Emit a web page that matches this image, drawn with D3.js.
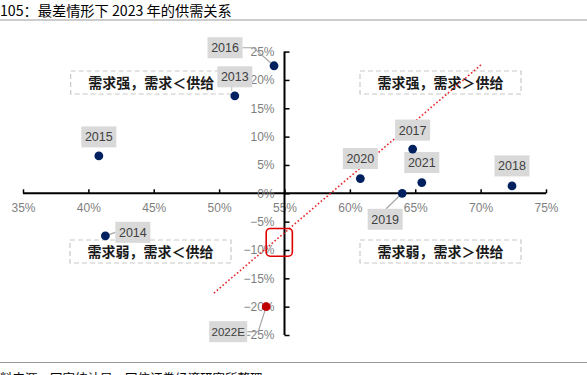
<!DOCTYPE html>
<html><head><meta charset="utf-8">
<script src="https://cdn.jsdelivr.net/npm/d3@7"></script>
<style>
html,body{margin:0;padding:0;background:#fff;}
svg{display:block;}
</style></head>
<body>
<svg id="c" width="587" height="375"></svg>
<script>
// ---- data ----
const years = ["2013","2014","2015","2016","2017","2018","2019","2020","2021","2022E"];
const demandX = [51.2, 41.3, 40.8, 54.2, 64.8, 72.4, 64.0, 60.8, 65.5, 53.6];
const supplyY = [17.2, -7.5, 6.6, 22.5, 7.8, 1.3, 0.0, 2.6, 1.9, -20.0];
const xTicks = [35,40,45,50,55,60,65,70,75];
const yTicks = [25,20,15,10,5,0,-5,-10,-15,-20,-25];
const trendX = [49.6, 70.1];
const trendY = [-17.6, 22.8];
const highlightX = [53.6, 55.6];
const highlightY = [-6.2, -11.1];
const quadrantTexts = ["需求强，需求＜供给","需求强，需求＞供给","需求弱，需求＜供给","需求弱，需求＞供给"];
const titleText = "105：最差情形下 2023 年的供需关系";
const sourceText = "资料来源：国家统计局，国信证券经济研究所整理";

// ---- layout (styling only) ----
const labelOffsets = {
  "2013":[0,-19], "2014":[27.5,-3.5], "2015":[0,-19], "2016":[-49,-18],
  "2017":[0,-19], "2018":[0,-20], "2019":[-17,26], "2020":[0,-20],
  "2021":[0,-20], "2022E":[-38,25]
};
const quadBoxes = [[70.7,71],[360,71],[70,240],[360,240]]; // top-left px
const quadW = 161, quadH = 23;

const svg = d3.select("#c");
const x = d3.scaleLinear().domain([35,75]).range([23,546]);
const y = d3.scaleLinear().domain([-25,25]).range([335,51.6]);
const fontLat = "'Liberation Sans', Arial, 'Noto Sans CJK SC', sans-serif";
const fontCJK = "'Noto Sans CJK SC', 'Liberation Sans', sans-serif";

// title
svg.append("text").attr("x",0).attr("y",15.5).attr("font-family",fontCJK)
  .attr("font-size",14.2).attr("fill","#000").text(titleText);
svg.append("line").attr("x1",0).attr("x2",587).attr("y1",20).attr("y2",20)
  .attr("stroke","#9a9a9a").attr("stroke-width",1);

// footer
svg.append("line").attr("x1",0).attr("x2",587).attr("y1",362.5).attr("y2",362.5)
  .attr("stroke","#9a9a9a").attr("stroke-width",1);
svg.append("text").attr("x",-12.5).attr("y",382.5).attr("font-family",fontCJK)
  .attr("font-size",12.5).attr("fill","#000").text(sourceText);

// quadrant dashed boxes
quadBoxes.forEach((b,i)=>{
  svg.append("rect").attr("x",b[0]).attr("y",b[1]).attr("width",quadW).attr("height",quadH)
    .attr("fill","#fff").attr("stroke","#c8c8c8").attr("stroke-width",1.2)
    .attr("stroke-dasharray","5,3");
  svg.append("text").attr("x",b[0]+quadW/2).attr("y",b[1]+quadH/2).attr("dy","0.36em")
    .attr("text-anchor","middle").attr("font-family",fontCJK).attr("font-weight","bold")
    .attr("font-size",14).attr("fill","#1a1a1a").text(quadrantTexts[i]);
});

// axes
const xAxis = d3.axisTop(x).tickValues(xTicks).tickSize(4).tickFormat(d=>d+"%");
const gx = svg.append("g").attr("transform",`translate(0,${y(0)})`).call(xAxis);
gx.select(".domain").attr("stroke","#000").attr("stroke-width",2).attr("d",`M${x(35)},0H${x(75)}`);
gx.selectAll(".tick line").attr("stroke","#000").attr("stroke-width",1.5);
gx.selectAll(".tick text").attr("y",15).attr("dy","0.35em").attr("font-family",fontLat)
  .attr("font-size",12).attr("fill","#7f7f7f");

const yAxis = d3.axisRight(y).tickValues(yTicks).tickSize(5)
  .tickFormat(d=> (d<0? "\u2212"+Math.abs(d) : d)+"%");
const gy = svg.append("g").attr("transform",`translate(${x(55)},0)`).call(yAxis);
gy.select(".domain").attr("stroke","#000").attr("stroke-width",2).attr("d",`M0,${y(25)}V${y(-25)}`);
gy.selectAll(".tick line").attr("stroke","#000").attr("stroke-width",1.5);
gy.selectAll(".tick text").attr("x",-10).attr("text-anchor","end").attr("font-family",fontLat)
  .attr("font-size",12).attr("fill","#7f7f7f");

// trend line
svg.append("line").attr("x1",x(trendX[0])).attr("y1",y(trendY[0]))
  .attr("x2",x(trendX[1])).attr("y2",y(trendY[1]))
  .attr("stroke","#e8262a").attr("stroke-width",1.6).attr("stroke-dasharray","1.6,2.2");

// highlight rect
svg.append("rect").attr("x",x(highlightX[0])).attr("y",y(highlightY[0]))
  .attr("width",x(highlightX[1])-x(highlightX[0])).attr("height",y(highlightY[1])-y(highlightY[0]))
  .attr("rx",4).attr("fill","none").attr("stroke","#e00000").attr("stroke-width",1.6);

// points data
const pts = years.map((yr,i)=>({yr, px:x(demandX[i]), py:y(supplyY[i])}));

// leader lines
const leader = svg.append("g").attr("fill","none").attr("stroke","#a6a6a6").attr("stroke-width",1.2);
pts.forEach(p=>{
  const o = labelOffsets[p.yr];
  const bw = p.yr.length>4?38:35, bh=21;
  const cx = p.px+o[0], cy = p.py+o[1];
  if (p.yr==="2016"||p.yr==="2022E"){
    leader.append("path").attr("d",`M${cx+bw/2},${cy}H${cx+bw/2+11}L${p.px},${p.py}`);
  } else if (p.yr==="2014"){
    leader.append("path").attr("d",`M${p.px},${p.py}L${cx-bw/2},${cy}`);
  } else if (p.yr==="2019"){
    leader.append("path").attr("d",`M${cx+1},${cy-bh/2}L${p.px},${p.py}`);
  }
});

// labels
pts.forEach(p=>{
  const o = labelOffsets[p.yr];
  const bw = p.yr.length>4?38:35, bh=21;
  const cx = p.px+o[0], cy = p.py+o[1];
  svg.append("rect").attr("x",cx-bw/2).attr("y",cy-bh/2).attr("width",bw).attr("height",bh)
    .attr("fill","#d9d9d9");
  svg.append("text").attr("x",cx).attr("y",cy).attr("dy","0.36em").attr("text-anchor","middle")
    .attr("font-family",fontLat).attr("font-size",p.yr.length>4?11.5:12.5).attr("fill","#404040").text(p.yr);
});

// points
svg.append("g").selectAll("circle").data(pts).join("circle")
  .attr("cx",d=>d.px).attr("cy",d=>d.py).attr("r",4.4)
  .attr("fill",d=>d.yr==="2022E"?"#c00000":"#002060");
</script>
</body></html>
